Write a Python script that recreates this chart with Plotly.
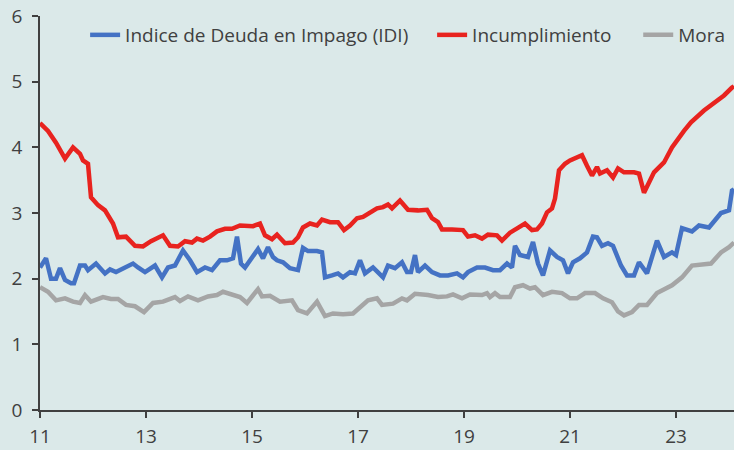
import plotly.graph_objects as go

# pixel-read samples converted to decimal years (11 = 2011)
def yr(px):
    return 11 + (px - 40) / 53.0

red_px = [40,48,56,65,73,80,83,88,91,98,105,113,118,126,135,143,151,157,163,170,178,185,192,197,203,210,217,225,232,240,247,253,260,265,272,277,285,293,298,303,310,317,322,330,338,344,350,357,363,370,377,383,388,392,400,408,418,427,432,438,442,452,463,468,475,482,488,497,502,510,517,525,532,537,542,547,552,555,559,565,570,575,582,587,592,597,600,607,613,618,624,634,639,644,654,664,672,684,691,704,714,724,732,734]
red_val = [4.37,4.25,4.07,3.83,4.0,3.9,3.8,3.75,3.24,3.12,3.04,2.84,2.63,2.64,2.5,2.49,2.57,2.61,2.66,2.5,2.49,2.57,2.55,2.61,2.58,2.64,2.72,2.76,2.76,2.81,2.8,2.8,2.84,2.66,2.6,2.67,2.54,2.55,2.63,2.78,2.84,2.81,2.9,2.86,2.86,2.74,2.81,2.92,2.94,3.0,3.07,3.09,3.13,3.07,3.19,3.05,3.04,3.05,2.92,2.86,2.75,2.75,2.74,2.64,2.66,2.61,2.67,2.66,2.58,2.7,2.76,2.84,2.74,2.75,2.84,3.01,3.07,3.22,3.65,3.75,3.8,3.83,3.88,3.72,3.57,3.7,3.6,3.65,3.54,3.68,3.62,3.62,3.6,3.31,3.62,3.77,4.0,4.25,4.38,4.56,4.67,4.79,4.91,4.93]

blue_px = [40,46,51,56,60,65,71,74,80,85,88,96,105,110,116,125,133,138,145,155,162,168,175,183,190,197,205,212,220,227,233,237,241,245,252,258,263,268,273,277,283,290,298,303,308,317,322,325,332,338,343,350,355,360,365,373,383,388,395,402,407,411,415,418,425,432,440,448,457,463,468,477,485,493,500,507,512,515,520,528,533,538,543,550,557,563,568,573,580,587,593,597,602,608,613,617,621,627,634,639,647,657,664,672,676,682,692,699,709,721,729,732,734]
blue_val = [2.17,2.31,2.0,2.0,2.16,1.98,1.93,1.93,2.2,2.2,2.13,2.23,2.08,2.14,2.1,2.17,2.23,2.17,2.1,2.2,2.02,2.17,2.2,2.43,2.28,2.1,2.17,2.13,2.28,2.28,2.31,2.64,2.23,2.17,2.33,2.45,2.31,2.48,2.33,2.28,2.25,2.16,2.13,2.47,2.42,2.42,2.4,2.02,2.05,2.08,2.02,2.1,2.08,2.28,2.08,2.17,2.02,2.2,2.16,2.25,2.1,2.1,2.36,2.1,2.2,2.1,2.05,2.05,2.08,2.02,2.1,2.17,2.17,2.13,2.13,2.23,2.17,2.5,2.36,2.33,2.56,2.23,2.05,2.43,2.33,2.28,2.08,2.25,2.31,2.4,2.64,2.63,2.5,2.54,2.5,2.35,2.2,2.05,2.05,2.25,2.08,2.58,2.33,2.4,2.36,2.77,2.72,2.81,2.78,3.0,3.04,3.34,3.36]

grey_px = [40,48,56,65,73,80,85,91,103,111,118,126,135,144,153,163,175,180,188,198,208,217,223,232,240,247,258,262,270,280,292,298,307,317,325,333,343,353,360,368,377,382,393,402,407,415,428,438,447,453,462,470,482,487,490,495,500,510,515,523,530,535,543,552,562,570,577,585,595,603,612,618,624,632,639,647,657,672,682,692,711,721,729,734]
grey_val = [1.87,1.8,1.67,1.7,1.65,1.63,1.75,1.65,1.72,1.69,1.69,1.6,1.58,1.49,1.63,1.65,1.72,1.66,1.73,1.67,1.73,1.75,1.8,1.75,1.72,1.63,1.84,1.73,1.74,1.65,1.67,1.52,1.47,1.65,1.43,1.47,1.46,1.47,1.56,1.67,1.7,1.6,1.62,1.7,1.67,1.77,1.75,1.72,1.73,1.76,1.7,1.76,1.75,1.78,1.72,1.78,1.72,1.72,1.87,1.9,1.85,1.87,1.75,1.8,1.78,1.7,1.7,1.78,1.78,1.7,1.64,1.5,1.44,1.49,1.6,1.6,1.78,1.9,2.02,2.2,2.23,2.4,2.48,2.55]

names = ["Indice de Deuda en Impago (IDI)", "Incumplimiento", "Mora"]
colors = ["#4472C4", "#E8231F", "#A5A5A5"]
legend_ids = ["legend", "legend2", "legend3"]
tick_vals = [11, 13, 15, 17, 19, 21, 23]
tick_text = ["11", "13", "15", "17", "19", "21", "23"]

fig = go.Figure()
series = [(blue_px, blue_val), (red_px, red_val), (grey_px, grey_val)]
for (px, v), n, c, lg in zip(series, names, colors, legend_ids):
    fig.add_trace(go.Scatter(x=[yr(p) for p in px], y=v, name=n, mode="lines",
                             line=dict(color=c, width=4.5), legend=lg))

bg = "#DBE9E9"
axcol = "#404040"
legfont = dict(family="Open Sans", size=19, color=axcol)

def leg(x):
    return dict(orientation="h", x=x, y=1.0, xanchor="left", yanchor="top",
                bgcolor="rgba(0,0,0,0)", font=legfont, borderwidth=0)

fig.update_layout(
    width=734, height=450,
    paper_bgcolor=bg, plot_bgcolor=bg,
    margin=dict(l=40, r=0, t=16, b=40),
    font=dict(family="Open Sans", size=19, color=axcol),
    showlegend=True,
    legend=leg(0.065),
    legend2=leg(0.565),
    legend3=leg(0.862),
    xaxis=dict(range=[11, 11 + 694 / 53.0], tickvals=tick_vals, ticktext=tick_text,
               showgrid=False, zeroline=False, showline=True, linecolor=axcol, linewidth=1.5,
               ticks="outside", ticklen=6, tickcolor=axcol, tickwidth=1.5,
               ticklabelstandoff=2, ticklabeloverflow="allow"),
    yaxis=dict(range=[0, 6], dtick=1, showgrid=False, zeroline=False, showline=True,
               linecolor=axcol, linewidth=1.5, ticks="outside", ticklen=6, tickcolor=axcol,
               tickwidth=1.5, ticklabelstandoff=6, ticklabeloverflow="allow"),
)
fig.write_html("out.html", config={"displayModeBar": False},
               post_script="document.body.style.margin='0';document.body.style.overflow='hidden';")
